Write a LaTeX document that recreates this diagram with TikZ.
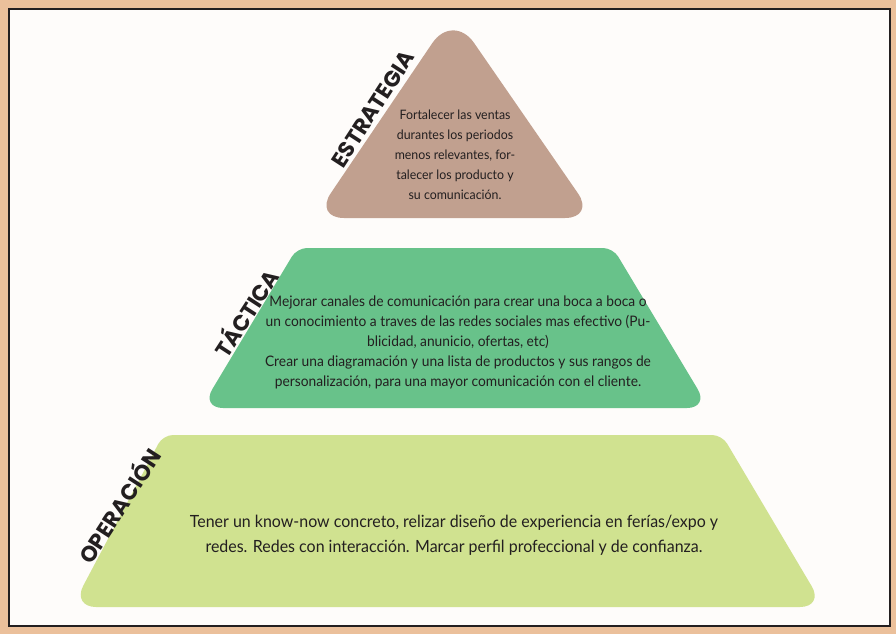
\documentclass[tikz,border=0pt]{standalone}
\usepackage{fontspec}
\setmainfont{Lato}
\newfontfamily\bodyfont[FakeStretch=0.95]{Lato}
\newfontfamily\labfont{Poppins}
\definecolor{framecol}{RGB}{235,192,155}
\definecolor{darkline}{RGB}{35,31,32}
\definecolor{paper}{RGB}{254,252,250}
\definecolor{tricol}{RGB}{193,160,143}
\definecolor{midcol}{RGB}{104,194,138}
\definecolor{lowcol}{RGB}{208,226,144}
\tikzset{
  bodytext/.style={text=darkline, align=center, inner sep=0pt},
  lab/.style={text=darkline, inner sep=0pt, font=\labfont\bfseries\fontsize{22}{22}\selectfont, rotate=57}
}
\begin{document}
\begin{tikzpicture}[x=1pt,y=-1pt]
\useasboundingbox (0,0) rectangle (896,634);
\fill[framecol] (0,0) rectangle (896,634);
\filldraw[fill=paper, draw=darkline, line width=2pt] (8.5,9.5) rectangle (890,626);
% triangle
\fill[tricol] (454,218) [rounded corners=30pt] -- (595,218) [rounded corners=37pt] -- (453,12.5) [rounded corners=30pt] -- (314,218) -- cycle;
% middle trapezoid
\fill[midcol] (455,408) [rounded corners=22pt] -- (709,408) [rounded corners=10pt] -- (613,248) -- (297,248) [rounded corners=22pt] -- (201,408) -- cycle;
% bottom trapezoid
\fill[lowcol] (448,607) [rounded corners=24pt] -- (824,607) [rounded corners=10pt] -- (722,435) -- (163,435) [rounded corners=24pt] -- (72,607) -- cycle;
% texts
\node[bodytext, font=\bodyfont\fontsize{13}{20}\selectfont] (ttri) at (455,155)
  {Fortalecer las ventas\\durantes los periodos\\menos relevantes, for-\\talecer los producto y\\su comunicación.};
\node[bodytext, font=\bodyfont\fontsize{14.5}{20}\selectfont] (tmid) at (458,342)
  {Mejorar canales de comunicación para crear una boca a boca o\\un conocimiento a traves de las redes sociales mas efectivo (Pu-\\blicidad, anunicio, ofertas, etc)\\Crear una diagramación y una lista de productos y sus rangos de\\personalización, para una mayor comunicación con el cliente.};
\node[bodytext, font=\bodyfont\fontsize{16.8}{25}\selectfont] (tlow) at (454,535.5)
  {Tener un know-now concreto, relizar diseño de experiencia en ferías/expo y\\redes. Redes con interacción. Marcar perfil profeccional y de confianza.};
% labels
\node[lab] (lestr) at (373,109) {ESTRATEGIA};
\node[lab] (ltac) at (245,312) {TÁCTICA};
\node[lab] (lop) at (118,505) {OPERACIÓN};
\end{tikzpicture}
\end{document}
